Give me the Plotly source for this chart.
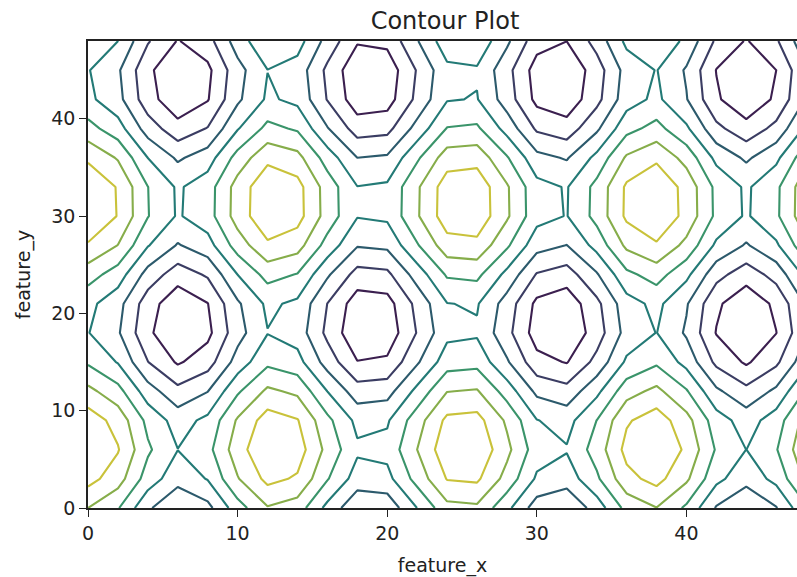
import plotly.graph_objects as go

# Grid coordinates of the two features
feature_x = [0, 2, 4, 6, 8, 10, 12, 14, 16, 18, 20, 22, 24,
             26, 28, 30, 32, 34, 36, 38, 40, 42, 44, 46, 48]
feature_y = [0, 3, 6, 9, 12, 15, 18, 21, 24, 27, 30, 33, 36, 39, 42, 45, 48]

# Surface values, one row per feature_y value
z_row_00 = [1.000, 0.540, -0.416, -0.990, -0.654, 0.284, 0.960, 0.754, -0.146, -0.911, -0.839, 0.004, 0.844, 0.907, 0.137, -0.760, -0.958, -0.275, 0.660, 0.989, 0.408, -0.548, -1.000, -0.533, 0.424]
z_row_03 = [1.682, 1.222, 0.266, -0.308, 0.028, 0.966, 1.642, 1.436, 0.536, -0.229, -0.157, 0.686, 1.526, 1.589, 0.819, -0.078, -0.276, 0.407, 1.342, 1.671, 1.090, 0.134, -0.318, 0.149, 1.106]
z_row_06 = [1.997, 1.537, 0.581, 0.007, 0.343, 1.281, 1.957, 1.751, 0.851, 0.086, 0.158, 1.001, 1.841, 1.904, 1.134, 0.237, 0.039, 0.722, 1.657, 1.986, 1.405, 0.449, -0.003, 0.464, 1.421]
z_row_09 = [1.778, 1.318, 0.362, -0.212, 0.124, 1.062, 1.738, 1.532, 0.632, -0.133, -0.061, 0.782, 1.622, 1.685, 0.915, 0.018, -0.180, 0.503, 1.438, 1.767, 1.186, 0.230, -0.222, 0.245, 1.202]
z_row_12 = [1.141, 0.681, -0.275, -0.849, -0.513, 0.425, 1.101, 0.895, -0.005, -0.770, -0.698, 0.145, 0.985, 1.048, 0.278, -0.619, -0.817, -0.134, 0.801, 1.130, 0.549, -0.407, -0.859, -0.392, 0.565]
z_row_15 = [0.428, -0.032, -0.988, -1.562, -1.226, -0.288, 0.388, 0.182, -0.718, -1.483, -1.411, -0.568, 0.272, 0.335, -0.435, -1.332, -1.530, -0.847, 0.088, 0.417, -0.164, -1.120, -1.572, -1.105, -0.148]
z_row_18 = [0.022, -0.438, -1.394, -1.968, -1.632, -0.694, -0.018, -0.224, -1.124, -1.889, -1.817, -0.974, -0.134, -0.071, -0.841, -1.738, -1.936, -1.253, -0.318, 0.011, -0.570, -1.526, -1.978, -1.511, -0.554]
z_row_21 = [0.141, -0.319, -1.275, -1.849, -1.513, -0.575, 0.101, -0.105, -1.005, -1.770, -1.698, -0.855, -0.015, 0.048, -0.722, -1.619, -1.817, -1.134, -0.199, 0.130, -0.451, -1.407, -1.859, -1.392, -0.435]
z_row_24 = [0.721, 0.261, -0.695, -1.269, -0.933, 0.005, 0.681, 0.475, -0.425, -1.190, -1.118, -0.275, 0.565, 0.628, -0.142, -1.039, -1.237, -0.554, 0.381, 0.710, 0.129, -0.827, -1.279, -0.812, 0.145]
z_row_27 = [1.450, 0.990, 0.034, -0.540, -0.204, 0.734, 1.410, 1.204, 0.304, -0.461, -0.389, 0.454, 1.294, 1.357, 0.587, -0.310, -0.508, 0.175, 1.110, 1.439, 0.858, -0.098, -0.550, -0.083, 0.874]
z_row_30 = [1.938, 1.478, 0.522, -0.052, 0.284, 1.222, 1.898, 1.692, 0.792, 0.027, 0.099, 0.942, 1.782, 1.845, 1.075, 0.178, -0.020, 0.663, 1.598, 1.927, 1.346, 0.390, -0.062, 0.405, 1.362]
z_row_33 = [1.923, 1.463, 0.507, -0.067, 0.269, 1.207, 1.883, 1.677, 0.777, 0.012, 0.084, 0.927, 1.767, 1.830, 1.060, 0.163, -0.035, 0.648, 1.583, 1.912, 1.331, 0.375, -0.077, 0.390, 1.347]
z_row_36 = [1.412, 0.952, -0.004, -0.578, -0.242, 0.696, 1.372, 1.166, 0.266, -0.499, -0.427, 0.416, 1.256, 1.319, 0.549, -0.348, -0.546, 0.137, 1.072, 1.401, 0.820, -0.136, -0.588, -0.121, 0.836]
z_row_39 = [0.680, 0.220, -0.736, -1.310, -0.974, -0.036, 0.640, 0.434, -0.466, -1.231, -1.159, -0.316, 0.524, 0.587, -0.183, -1.080, -1.278, -0.595, 0.340, 0.669, 0.088, -0.868, -1.320, -0.853, 0.104]
z_row_42 = [0.120, -0.340, -1.296, -1.870, -1.534, -0.596, 0.080, -0.126, -1.026, -1.791, -1.719, -0.876, -0.036, 0.027, -0.743, -1.640, -1.838, -1.155, -0.220, 0.109, -0.472, -1.428, -1.880, -1.413, -0.456]
z_row_45 = [0.032, -0.428, -1.384, -1.958, -1.622, -0.684, -0.008, -0.214, -1.114, -1.879, -1.807, -0.964, -0.124, -0.061, -0.831, -1.728, -1.926, -1.243, -0.308, 0.021, -0.560, -1.516, -1.968, -1.501, -0.544]
z_row_48 = [0.463, 0.003, -0.953, -1.527, -1.191, -0.253, 0.423, 0.217, -0.683, -1.448, -1.376, -0.533, 0.307, 0.370, -0.400, -1.297, -1.495, -0.812, 0.123, 0.452, -0.129, -1.085, -1.537, -1.070, -0.113]

z_grid = [z_row_00, z_row_03, z_row_06, z_row_09, z_row_12, z_row_15, z_row_18,
          z_row_21, z_row_24, z_row_27, z_row_30, z_row_33, z_row_36, z_row_39,
          z_row_42, z_row_45, z_row_48]

tick_values = [0, 10, 20, 30, 40]
tick_labels = ["0", "10", "20", "30", "40"]

# Muted viridis-like ramp, one stop per contour level (-1.5 ... 1.5)
line_colors = [
    [0.0, "#3b1f4f"],
    [1 / 6, "#3b3d63"],
    [2 / 6, "#2c5a6c"],
    [0.5, "#237a76"],
    [4 / 6, "#3a946a"],
    [5 / 6, "#86ad4a"],
    [1.0, "#c9c23a"],
]

FONT = "DejaVu Sans"
TEXT = "#222222"

fig = go.Figure(
    go.Contour(
        x=feature_x,
        y=feature_y,
        z=z_grid,
        colorscale=line_colors,
        zmin=-1.5,
        zmax=1.5,
        autocontour=False,
        contours=dict(start=-1.5, end=1.5, size=0.5, coloring="lines", showlabels=False),
        line=dict(width=2.1, smoothing=0),
        showscale=False,
        hoverinfo="skip",
    )
)

fig.update_layout(
    width=797,
    height=577,
    margin=dict(l=88, r=0, t=41, b=69),
    paper_bgcolor="white",
    plot_bgcolor="white",
    showlegend=False,
    font=dict(family=FONT, size=19, color=TEXT),
    title=dict(
        text="Contour Plot",
        font=dict(family=FONT, size=24, color=TEXT),
        xref="paper", x=0.5035, xanchor="center",
        yref="container", y=1 - 21 / 577, yanchor="middle",
    ),
)

fig.update_xaxes(
    range=[0, 47.39],
    tickmode="array", tickvals=tick_values, ticktext=tick_labels,
    ticks="outside", ticklen=7, tickwidth=1.3, tickcolor="#222222",
    showline=True, linecolor="#222222", linewidth=1.5, mirror=True,
    showgrid=False, zeroline=False,
    tickfont=dict(family=FONT, size=19, color=TEXT),
    title=dict(text="feature_x", font=dict(family=FONT, size=19, color=TEXT), standoff=18),
)
fig.update_yaxes(
    range=[0, 48],
    tickmode="array", tickvals=tick_values, ticktext=tick_labels,
    ticks="outside", ticklen=7, tickwidth=1.3, tickcolor="#222222",
    showline=True, linecolor="#222222", linewidth=1.5, mirror=False,
    showgrid=False, zeroline=False,
    tickfont=dict(family=FONT, size=19, color=TEXT),
    title=dict(text="feature_y", font=dict(family=FONT, size=19, color=TEXT), standoff=16),
)

fig.write_html("out.html")
